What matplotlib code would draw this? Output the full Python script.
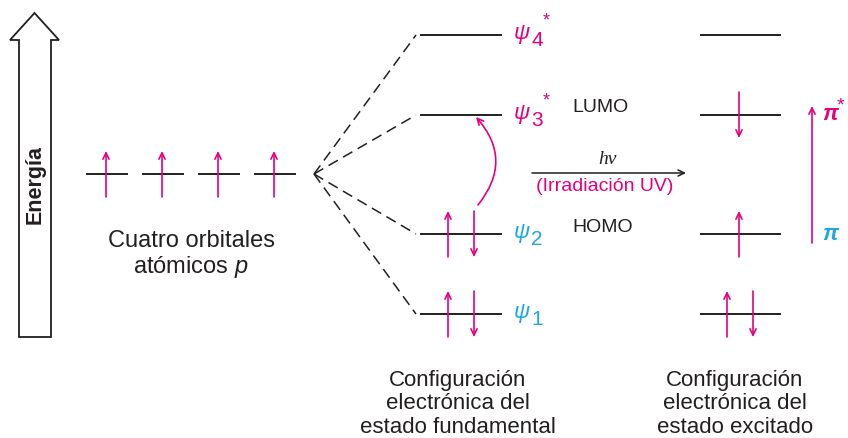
import matplotlib.pyplot as plt
from matplotlib.patches import Polygon

plt.rcParams['font.family'] = ['Liberation Sans', 'DejaVu Sans']
plt.rcParams['mathtext.fontset'] = 'custom'
plt.rcParams['mathtext.rm'] = 'Liberation Sans'
plt.rcParams['mathtext.it'] = 'Liberation Sans:italic'
plt.rcParams['mathtext.bf'] = 'Liberation Sans:bold'

MAG = '#e6007e'
CYAN = '#1ea7e1'
INK = '#231f20'

# energy levels (arbitrary units, 0 = atomic p level)
p_energy = 0.0
p_count = 4
mo_energy = [-1.40, -0.60, 0.59, 1.39]          # psi1 .. psi4
mo_index = ['1', '2', '3', '4']
mo_star = [False, False, True, True]
mo_colors = [CYAN, CYAN, MAG, MAG]
ground_up = [1, 1, 0, 0]
ground_down = [1, 1, 0, 0]
excited_up = [1, 1, 0, 0]
excited_down = [1, 0, 1, 0]

fig = plt.figure(figsize=(8.48, 4.38), dpi=100)
ax = fig.add_axes([0, 0, 1, 1])
ax.set_xlim(0, 848)
ax.set_ylim(-2.64, 1.74)
ax.axis('off')

ARR = dict(arrowstyle='->,head_length=0.45,head_width=0.22', color=MAG, lw=1.2,
           shrinkA=0, shrinkB=0)


def electron(x, e, up):
    a, b = (e - 0.23, e + 0.23) if up else (e + 0.23, e - 0.23)
    ax.annotate('', xy=(x, b), xytext=(x, a), arrowprops=ARR)


# big energy arrow
ax.add_patch(Polygon([(19, -1.63), (51, -1.63), (51, 1.34), (59, 1.34), (34.5, 1.61),
                      (10, 1.34), (19, 1.34)], closed=True, fc='white', ec=INK, lw=1.3))
ax.text(35, -0.11, 'Energía', rotation=90, ha='center', va='center',
        fontsize=15.5, fontweight='bold', color=INK)

# atomic p orbitals
p_x = [107, 163, 219, 275]
for i in range(p_count):
    ax.plot([p_x[i] - 20, p_x[i] + 20], [p_energy, p_energy], color=INK, lw=1.4)
    electron(p_x[i] - 1, p_energy, True)
ax.text(191, -0.81, 'Cuatro orbitales\natómicos $p$', ha='center', va='center',
        fontsize=17, color=INK, linespacing=1.15)

# dashed correlation lines
for e in mo_energy:
    ax.plot([314, 416], [p_energy, e], color=INK, lw=1.1, ls=(0, (7, 4)))

# ground state
for i, e in enumerate(mo_energy):
    ax.plot([421, 501], [e, e], color=INK, lw=1.4)
    if ground_up[i]:
        electron(448, e, True)
    if ground_down[i]:
        electron(474, e, False)
    ax.text(514, e + 0.01, 'ψ', ha='left', va='center', fontsize=16,
            style='italic', color=mo_colors[i])
    ax.text(531, e - 0.06, mo_index[i], ha='left', va='center', fontsize=15,
            color=mo_colors[i])
    if mo_star[i]:
        ax.text(543, e + 0.14, '*', ha='left', va='center', fontsize=13,
                color=mo_colors[i])

# excited state
for i, e in enumerate(mo_energy):
    ax.plot([701, 780], [e, e], color=INK, lw=1.4)
    both = excited_up[i] and excited_down[i]
    if excited_up[i]:
        electron(727 if both else 739, e, True)
    if excited_down[i]:
        electron(753 if both else 739, e, False)

# HOMO -> LUMO curved arrow
ax.annotate('', xy=(476, mo_energy[2] - 0.02), xytext=(478, mo_energy[1] + 0.29),
            arrowprops=dict(ARR, connectionstyle='arc3,rad=0.42'))

ax.text(572, 0.66, 'LUMO', ha='left', va='center', fontsize=14, color=INK)
ax.text(572, -0.54, 'HOMO', ha='left', va='center', fontsize=14, color=INK)

# h nu arrow
ax.annotate('', xy=(686, 0.01), xytext=(532, 0.01),
            arrowprops=dict(ARR, color=INK, lw=1.1))
ax.text(607, 0.14, 'hν', ha='center', va='center', fontsize=14, color=INK,
        family='Liberation Serif', style='italic')
ax.text(605, -0.13, '(Irradiación UV)', ha='center', va='center', fontsize=14, color=MAG)

# pi -> pi* arrow
ax.annotate('', xy=(812, 0.68), xytext=(812, -0.69), arrowprops=ARR)
ax.text(822, 0.59, 'π', ha='left', va='center', fontsize=16, style='italic',
        fontweight='bold', color=MAG)
ax.text(837, 0.68, '*', ha='left', va='center', fontsize=14, color=MAG)
ax.text(822, -0.61, 'π', ha='left', va='center', fontsize=16, style='italic',
        fontweight='bold', color=CYAN)

ax.text(458, -2.30, 'Configuración\nelectrónica del\nestado fundamental', ha='center',
        va='center', fontsize=16, color=INK, linespacing=1.15)
ax.text(735, -2.30, 'Configuración\nelectrónica del\nestado excitado', ha='center',
        va='center', fontsize=16, color=INK, linespacing=1.15)

fig.savefig('out.png', dpi=100, facecolor='white')
